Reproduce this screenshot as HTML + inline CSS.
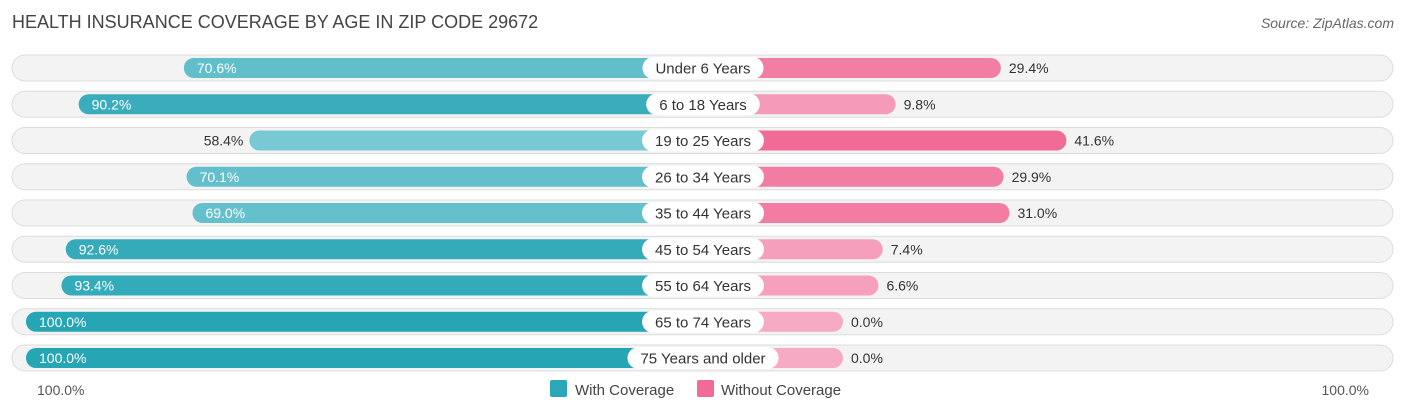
<!DOCTYPE html>
<html><head><meta charset="utf-8"><style>
body{margin:0;background:#fff;width:1406px;height:414px;overflow:hidden;font-family:"Liberation Sans",sans-serif}
svg text{font-family:"Liberation Sans",sans-serif}
</style></head><body>
<svg id="c" width="1406" height="414">
<text x="12" y="28" font-size="18" fill="#444">HEALTH INSURANCE COVERAGE BY AGE IN ZIP CODE 29672</text>
<text x="1394" y="28" font-size="14" fill="#666" font-style="italic" text-anchor="end">Source: ZipAtlas.com</text>
<g id="rows"></g>
<text x="37" y="395" font-size="14" fill="#555">100.0%</text>
<text x="1369" y="395" font-size="14" fill="#555" text-anchor="end">100.0%</text>
<rect x="550" y="380" width="17" height="17" rx="2" fill="#2aa7b8"/>
<text x="575" y="395" font-size="15" fill="#444">With Coverage</text>
<rect x="697" y="380" width="17" height="17" rx="2" fill="#f06b96"/>
<text x="721" y="395" font-size="15" fill="#444">Without Coverage</text>
</svg>
<script>
const categories=["Under 6 Years","6 to 18 Years","19 to 25 Years","26 to 34 Years","35 to 44 Years","45 to 54 Years","55 to 64 Years","65 to 74 Years","75 Years and older"];
const withCov=[70.6,90.2,58.4,70.1,69.0,92.6,93.4,100.0,100.0];
const withoutCov=[29.4,9.8,41.6,29.9,31.0,7.4,6.6,0.0,0.0];
const NS="http://www.w3.org/2000/svg";
const cx=703,base=140,k=5.37,y0=68,dy=36.25;
function w(v){return base+v*k;}
function mix(a,b,t){return "rgb("+a.map((x,i)=>Math.round(x+(b[i]-x)*t)).join(",")+")";}
function el(t,a){const e=document.createElementNS(NS,t);for(const x in a)e.setAttribute(x,a[x]);return e;}
const g=document.getElementById("rows");
categories.forEach((c,i)=>{
 const y=y0+i*dy;
 const bg=el("rect",{x:12,y:y-13,width:1381,height:26,rx:13,fill:"#f3f3f3",stroke:"#dcdcdc"});
 
 
 g.appendChild(bg);
 const lw=w(withCov[i]);
 const lt=Math.max(0,Math.min(1,(withCov[i]-55)/45));
 const lb=el("rect",{x:cx-lw,y:y-10,width:lw,height:20,rx:10,fill:mix([128,204,214],[38,165,181],lt)});
 
 
 g.appendChild(lb);
 const rw=w(withoutCov[i]);
 const rt=Math.max(0,Math.min(1,withoutCov[i]/42));
 const rb=el("rect",{x:cx,y:y-10,width:rw,height:20,rx:10,fill:mix([247,170,196],[240,107,150],rt)});
 
 
 g.appendChild(rb);
 const inside=withCov[i]>=60;
 const lv=el("text",{x:inside?cx-lw+13:cx-lw-6,y:y+5,"font-size":14,fill:inside?"#fff":"#333","text-anchor":inside?"start":"end"});
 lv.textContent=withCov[i].toFixed(1)+"%";
 
 
 g.appendChild(lv);
 const rv=el("text",{x:cx+rw+8,y:y+5,"font-size":14,fill:"#333"});
 rv.textContent=withoutCov[i].toFixed(1)+"%";
 
 
 g.appendChild(rv);
 const lbl=el("text",{x:cx,y:y+5.5,"font-size":15,fill:"#333","text-anchor":"middle"});
 lbl.textContent=c;
 
 
 g.appendChild(lbl);
 const tw=lbl.getComputedTextLength()+26;
 const pill=el("rect",{x:cx-tw/2,y:y-11,width:tw,height:22,rx:11,fill:"#fff"});
 
 
 g.insertBefore(pill,lbl);
});
</script>
</body></html>
